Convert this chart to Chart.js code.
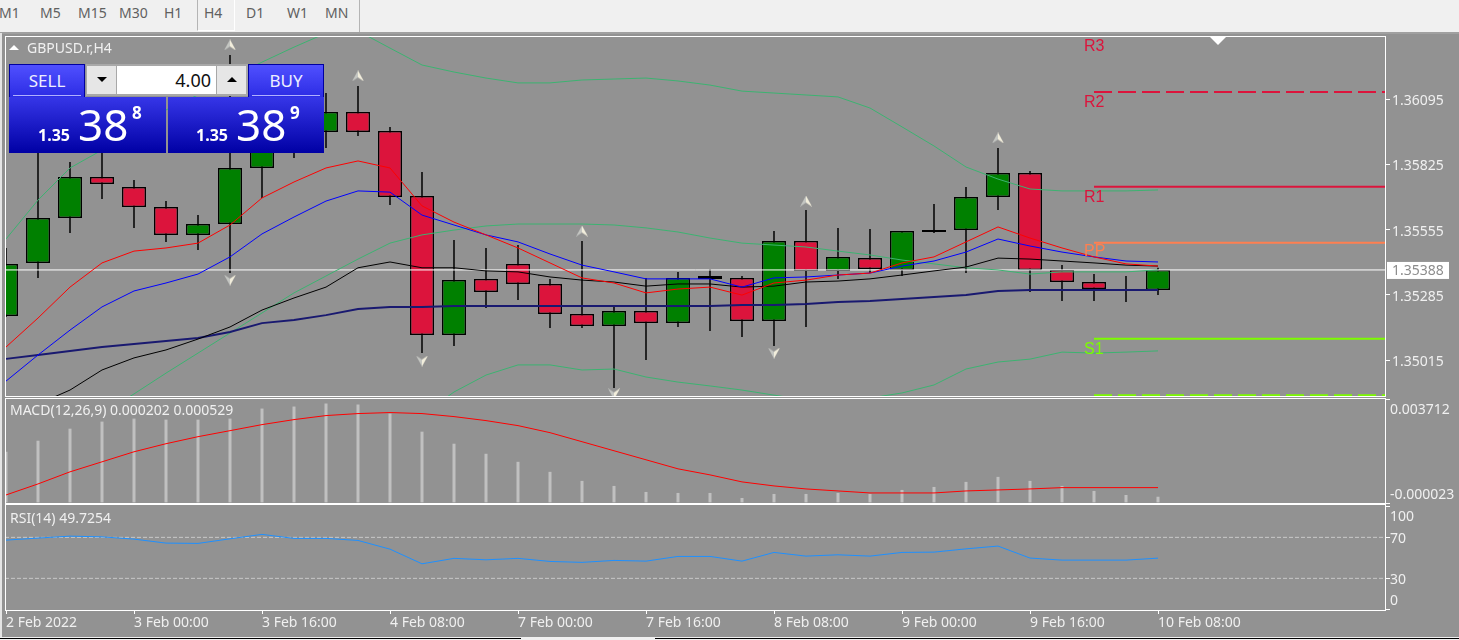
<!DOCTYPE html>
<html>
<head>
<meta charset="utf-8">
<title>GBPUSD.r,H4</title>
<script src="https://cdn.jsdelivr.net/npm/chart.js@4/dist/chart.umd.js"></script>
<style>
html, body { margin: 0; padding: 0; width: 1459px; height: 640px; overflow: hidden; background: #929292; font-family: "Noto Sans", sans-serif; }
canvas { position: absolute; left: 0; }
.abs { position: absolute; white-space: nowrap; }
#toolbar { left: 0; top: 0; width: 1459px; height: 32px; background: #f0f0f0; border-bottom: 2px solid #a0a0a0; }
#toolbar span { position: absolute; top: 3px; font-size: 14px; line-height: 20px; color: #606060; }
#tf-sep1 { left: 197px; top: 0; width: 36px; height: 30px; border-left: 1px solid #b4b4b4; border-right: 1px solid #fff; border-bottom: 1px solid #fff; }
#tf-sep2 { left: 359px; top: 0; width: 1px; height: 32px; background: #b4b4b4; }
#edge { left: 0; top: 33px; width: 2px; height: 604px; background: #e4e4e4; }
#foot { left: 0; top: 637px; width: 1459px; height: 3px; background: #f0f0f0; }
#foot i { position: absolute; top: 1px; height: 1px; background: #000; }
.pane-title { color: #f0f0f0; font-size: 14px; line-height: 16px; }
#tri-title { left: 9px; top: 45px; width: 0; height: 0; border-left: 5px solid transparent; border-right: 5px solid transparent; border-bottom: 5px solid #fff; }
#tri-shift { left: 1210px; top: 37px; width: 0; height: 0; border-left: 8px solid transparent; border-right: 8px solid transparent; border-top: 8px solid #fff; }
.tab { top: 64px; width: 76px; height: 33px; background: linear-gradient(#5050ff, #2c2ce4); border: 1px solid #0000a0; border-bottom: 0; box-sizing: border-box; color: #eef; text-align: center; font-size: 17px; line-height: 32px; }
.tab i { position: absolute; left: 3px; right: 3px; bottom: 1px; height: 1px; background: #b0b0ff; }
#lots { left: 86px; top: 64px; width: 162px; height: 32px; background: #a8a8a8; }
.stepper { top: 66px; width: 29px; height: 28px; background: #e6e6e6; }
.stepper b { position: absolute; left: 10px; top: 11px; width: 0; height: 0; border-left: 5px solid transparent; border-right: 5px solid transparent; }
#lot-val { left: 117px; top: 66px; width: 99px; height: 28px; background: #fff; color: #111; text-align: right; font-size: 18px; line-height: 28px; }
#lot-val span { padding-right: 5px; }
.quote { top: 97px; height: 56px; background: linear-gradient(#3636e8, #0000a4); color: #fff; }
.quote .big, .quote .small, .quote .tiny { position: absolute; }
.quote .big { font-size: 44px; line-height: 50px; top: 2px; }
.quote .small { font-size: 16px; font-weight: 700; line-height: 20px; top: 28px; }
.quote .tiny { font-size: 17px; font-weight: 700; line-height: 16px; top: 8px; }
</style>
</head>
<body>
<div id="toolbar" class="abs">
  <span style="left:-1px">M1</span><span style="left:40px">M5</span><span style="left:78px">M15</span><span style="left:119px">M30</span><span style="left:164px">H1</span>
  <span style="left:204px">H4</span><span style="left:246px">D1</span><span style="left:287px">W1</span><span style="left:325px">MN</span>
</div>
<div id="tf-sep1" class="abs"></div>
<div id="tf-sep2" class="abs"></div>
<div id="edge" class="abs"></div>

<canvas id="priceChart" width="1459" height="365" style="top:33px"></canvas>
<canvas id="macdChart" width="1459" height="108" style="top:397px"></canvas>
<canvas id="rsiChart" width="1459" height="133" style="top:504px"></canvas>

<div id="tri-title" class="abs"></div>
<div id="tri-shift" class="abs"></div>
<div class="abs pane-title" style="left:27px;top:40px">GBPUSD.r,H4</div>
<div class="abs pane-title" style="left:10px;top:402px">MACD(12,26,9) 0.000202 0.000529</div>
<div class="abs pane-title" style="left:10px;top:510px">RSI(14) 49.7254</div>

<div class="abs tab" style="left:9px"><i></i>SELL</div>
<div class="abs tab" style="left:248px"><i></i>BUY</div>
<div id="lots" class="abs"></div>
<div class="abs stepper" style="left:87px"><b style="border-top:5px solid #000"></b></div>
<div class="abs stepper" style="left:217px"><b style="border-bottom:5px solid #000"></b></div>
<div id="lot-val" class="abs"><span>4.00</span></div>
<div class="abs quote" style="left:9px;width:157px">
  <div class="small" style="left:29px">1.35</div><div class="big" style="left:69px">38</div><div class="tiny" style="left:123px">8</div>
</div>
<div class="abs quote" style="left:168px;width:156px">
  <div class="small" style="left:28px">1.35</div><div class="big" style="left:68px">38</div><div class="tiny" style="left:122px">9</div>
</div>
<div id="foot" class="abs"><i style="left:0;width:521px"></i><i style="left:655px;width:804px"></i></div>

<script>
var tickIndex = [0, 4, 8, 12, 16, 20, 24, 28, 32, 36];
var tickLabels = ["2 Feb 2022", "3 Feb 00:00", "3 Feb 16:00", "4 Feb 08:00", "7 Feb 00:00", "7 Feb 16:00", "8 Feb 08:00", "9 Feb 00:00", "9 Feb 16:00", "10 Feb 08:00"];

var opens = [1.35197, 1.35417, 1.35603, 1.35773, 1.35731, 1.35648, 1.35533, 1.35578, 1.35810, 1.35926, 1.35959, 1.36042, 1.35963, 1.35694, 1.35119, 1.35351, 1.35413, 1.35330, 1.35206, 1.35156, 1.35218, 1.35168, 1.35363, 1.35355, 1.35177, 1.35508, 1.35384, 1.35437, 1.35388, 1.35545, 1.35553, 1.35690, 1.35789, 1.35388, 1.35338, 1.35309, 1.35305];
var highs = [1.35479, 1.35926, 1.35835, 1.35905, 1.35760, 1.35673, 1.35615, 1.36277, 1.36071, 1.36091, 1.36120, 1.36149, 1.35980, 1.35793, 1.35512, 1.35479, 1.35491, 1.35351, 1.35508, 1.35235, 1.35355, 1.35380, 1.35392, 1.35363, 1.35549, 1.35636, 1.35562, 1.35557, 1.35549, 1.35661, 1.35731, 1.35893, 1.35797, 1.35408, 1.35371, 1.35363, 1.35397];
var lows = [1.35193, 1.35355, 1.35541, 1.35682, 1.35562, 1.35504, 1.35471, 1.35375, 1.35686, 1.35851, 1.35893, 1.35942, 1.35657, 1.35044, 1.35073, 1.35231, 1.35264, 1.35148, 1.35148, 1.34900, 1.35015, 1.35152, 1.35135, 1.35111, 1.35073, 1.35152, 1.35351, 1.35375, 1.35363, 1.35541, 1.35375, 1.35636, 1.35297, 1.35259, 1.35259, 1.35255, 1.35284];
var closes = [1.35413, 1.35603, 1.35773, 1.35744, 1.35648, 1.35533, 1.35578, 1.35810, 1.35988, 1.36017, 1.36042, 1.35959, 1.35690, 1.35119, 1.35346, 1.35297, 1.35330, 1.35206, 1.35156, 1.35218, 1.35168, 1.35355, 1.35351, 1.35177, 1.35508, 1.35384, 1.35442, 1.35392, 1.35549, 1.35553, 1.35690, 1.35789, 1.35388, 1.35338, 1.35309, 1.35301, 1.35388];

var maRed = [1.35069, 1.35189, 1.35317, 1.35417, 1.35466, 1.35479, 1.35499, 1.35574, 1.35686, 1.35752, 1.35810, 1.35839, 1.35810, 1.35653, 1.35586, 1.35533, 1.35479, 1.35417, 1.35355, 1.35334, 1.35293, 1.35309, 1.35317, 1.35284, 1.35334, 1.35346, 1.35367, 1.35375, 1.35417, 1.35442, 1.35504, 1.35566, 1.35520, 1.35479, 1.35442, 1.35413, 1.35404];
var maBlue = [1.34928, 1.35036, 1.35139, 1.35235, 1.35301, 1.35334, 1.35371, 1.35442, 1.35537, 1.35607, 1.35673, 1.35715, 1.35710, 1.35615, 1.35574, 1.35533, 1.35504, 1.35454, 1.35408, 1.35380, 1.35351, 1.35351, 1.35351, 1.35317, 1.35355, 1.35359, 1.35367, 1.35375, 1.35404, 1.35425, 1.35462, 1.35516, 1.35487, 1.35462, 1.35442, 1.35425, 1.35421];
var maBlack = [null, 1.34833, 1.34891, 1.34974, 1.35024, 1.35057, 1.35102, 1.35152, 1.35222, 1.35272, 1.35317, 1.35397, 1.35421, 1.35397, 1.35397, 1.35384, 1.35380, 1.35359, 1.35346, 1.35338, 1.35321, 1.35330, 1.35330, 1.35317, 1.35321, 1.35338, 1.35342, 1.35351, 1.35367, 1.35384, 1.35400, 1.35437, 1.35433, 1.35425, 1.35417, 1.35408, 1.35404];
var maNavy = [1.35020, 1.35036, 1.35053, 1.35069, 1.35082, 1.35094, 1.35106, 1.35131, 1.35168, 1.35181, 1.35201, 1.35226, 1.35235, 1.35235, 1.35239, 1.35239, 1.35239, 1.35239, 1.35239, 1.35239, 1.35239, 1.35239, 1.35239, 1.35243, 1.35243, 1.35247, 1.35255, 1.35259, 1.35268, 1.35276, 1.35284, 1.35301, 1.35305, 1.35305, 1.35305, 1.35305, 1.35305];

var bandUpper = [1.35516, 1.35677, 1.35810, 1.35884, 1.35967, 1.36050, 1.36112, 1.36182, 1.36248, 1.36310, 1.36368, 1.36377, 1.36306, 1.36236, 1.36207, 1.36182, 1.36162, 1.36162, 1.36174, 1.36178, 1.36182, 1.36170, 1.36153, 1.36128, 1.36120, 1.36112, 1.36104, 1.36058, 1.35980, 1.35901, 1.35814, 1.35764, 1.35723, 1.35715, 1.35715, 1.35715, 1.35719];
var bandMiddle = [null, null, null, 1.34792, 1.34875, 1.34961, 1.35044, 1.35127, 1.35210, 1.35293, 1.35363, 1.35433, 1.35499, 1.35533, 1.35553, 1.35570, 1.35578, 1.35578, 1.35578, 1.35574, 1.35562, 1.35545, 1.35520, 1.35499, 1.35491, 1.35483, 1.35466, 1.35450, 1.35429, 1.35413, 1.35397, 1.35388, 1.35371, 1.35380, 1.35380, 1.35380, 1.35388];
var bandLower = [null, null, null, null, null, null, null, null, null, null, null, null, null, 1.34788, 1.34883, 1.34953, 1.34995, 1.34995, 1.34974, 1.34978, 1.34945, 1.34924, 1.34908, 1.34891, 1.34870, 1.34850, 1.34846, 1.34858, 1.34879, 1.34912, 1.34978, 1.35007, 1.35019, 1.35048, 1.35044, 1.35048, 1.35053];

var fractalUpBars = [7, 11, 18, 25, 31];
var fractalUpValues = [1.36319, 1.36191, 1.35549, 1.35673, 1.35934];
var fractalDownBars = [7, 13, 19, 24];
var fractalDownValues = [1.35346, 1.35011, 1.34875, 1.35044];

var pivotNames = ["R3", "R2", "R1", "PP", "S1", "S2"];
var pivotValues = [1.36356, 1.36124, 1.35732, 1.35501, 1.35103, 1.34870];
var pivotFrom = 34;
var bidPrice = 1.35388;
var priceTicks = [1.36095, 1.35825, 1.35555, 1.35285, 1.35015];

var macdBars = [0.001817, 0.002214, 0.002647, 0.002900, 0.003008, 0.002972, 0.002972, 0.003008, 0.003369, 0.003441, 0.003550, 0.003514, 0.003189, 0.002539, 0.002106, 0.001745, 0.001456, 0.001096, 0.000771, 0.000590, 0.000374, 0.000338, 0.000338, 0.000157, 0.000302, 0.000302, 0.000338, 0.000302, 0.000446, 0.000554, 0.000735, 0.000915, 0.000771, 0.000590, 0.000410, 0.000265, 0.000202];
var macdSignal = [0.000265, 0.000662, 0.001096, 0.001456, 0.001817, 0.002106, 0.002359, 0.002575, 0.002792, 0.002972, 0.003117, 0.003189, 0.003225, 0.003189, 0.003080, 0.002936, 0.002756, 0.002503, 0.002178, 0.001853, 0.001529, 0.001204, 0.000987, 0.000735, 0.000590, 0.000482, 0.000410, 0.000338, 0.000338, 0.000338, 0.000410, 0.000446, 0.000482, 0.000529, 0.000529, 0.000529, 0.000529];
var macdTicks = [0.003712, -0.000023];

var rsiValues = [67.3, 69.3, 71.2, 70.5, 68.3, 64.4, 64.1, 68.6, 72.9, 69, 69, 67, 58.5, 44.2, 49.5, 48.1, 49.5, 46.5, 45.6, 47.5, 46.8, 51.4, 51.4, 46.8, 55.3, 51.7, 53, 51.7, 55.3, 55.6, 58.8, 61.5, 49.8, 47.8, 47.8, 47.8, 49.7254];
var rsiLevels = [70, 30];
var rsiTicks = [100, 70, 30, 0];

var AXIS_FONT = { family: '"Noto Sans", sans-serif', size: 14 };
var AXIS_COLOR = "#f0f0f0";
var X_MIN = -1 / 32, X_MAX = 43.125;

var points = function(values) {
  return values.map(function(v, i) { return { x: i, y: v }; });
};

var lineSet = function(values, color, width) {
  return { type: "line", data: points(values), borderColor: color, borderWidth: width, pointRadius: 0, tension: 0 };
};

var flatLine = function(value, from, color, width, dash) {
  return { type: "line", data: [{ x: from, y: value }, { x: X_MAX, y: value }], borderColor: color, borderWidth: width, borderDash: dash || [], pointRadius: 0 };
};

var arrowImage = function(up) {
  var c = document.createElement("canvas"), g;
  c.width = 12;
  c.height = 11;
  g = c.getContext("2d");
  if (!up) {
    g.translate(0, 11);
    g.scale(1, -1);
  }
  g.fillStyle = "#f2eedc";
  g.beginPath();
  g.moveTo(6, 0);
  g.lineTo(12, 11);
  g.lineTo(6, 7);
  g.closePath();
  g.fill();
  g.fillStyle = "#c4c6c2";
  g.beginPath();
  g.moveTo(6, 0);
  g.lineTo(0, 11);
  g.lineTo(6, 7);
  g.closePath();
  g.fill();
  return c;
};

var fractalSet = function(bars, values, up) {
  return {
    type: "line", showLine: false, pointStyle: arrowImage(up), pointRadius: 6,
    data: bars.map(function(b, i) { return { x: b, y: values[i] }; })
  };
};

var xAxis = function(show) {
  return {
    type: "linear", min: X_MIN, max: X_MAX, offset: false, display: show,
    afterBuildTicks: function(s) {
      s.ticks = tickIndex.map(function(v) { return { value: v }; });
    },
    afterFit: function(s) {
      s.height = show ? 27 : 0;
      s.paddingLeft = s.paddingRight = 0;
    },
    border: { display: false },
    grid: { drawOnChartArea: false, drawTicks: true, tickLength: 4, color: "#ffffff" },
    ticks: {
      autoSkip: false, maxRotation: 0, align: "start", padding: 1, color: AXIS_COLOR, font: AXIS_FONT,
      callback: function(v) { return tickLabels[tickIndex.indexOf(v)]; }
    }
  };
};

var yAxis = function(min, max, tickValues) {
  return {
    position: "right", min: min, max: max,
    afterBuildTicks: function(s) {
      s.ticks = tickValues.map(function(v) { return { value: v }; });
    },
    afterFit: function(s) {
      s.width = 73;
      s.paddingTop = s.paddingBottom = 0;
    },
    border: { display: false },
    grid: { drawOnChartArea: false, drawTicks: true, tickLength: 4, color: "#ffffff" },
    ticks: { display: false, autoSkip: false }
  };
};

// white frame round the plot area, and the right hand labels (MT4 pushes some inside the pane)
var framePlugin = {
  id: "frame",
  afterDraw: function(chart, args, opts) {
    var a = chart.chartArea, g = chart.ctx, s = chart.scales.y;
    g.save();
    g.strokeStyle = "#ffffff";
    g.lineWidth = 1;
    g.strokeRect(Math.round(a.left) + 0.5, Math.round(a.top) - 0.5, a.right - a.left - 1, a.bottom - a.top + 1);
    g.font = AXIS_FONT.size + "px " + AXIS_FONT.family;
    g.fillStyle = AXIS_COLOR;
    g.textBaseline = "middle";
    (opts.labels || []).forEach(function(l) {
      g.fillText(l.text, a.right + (l.gap || 4), s.getPixelForValue(l.value) + l.shift);
    });
    g.restore();
  }
};

var pricePlugin = {
  id: "priceMarks",
  afterDraw: function(chart) {
    var s = chart.scales.y, g = chart.ctx, y;
    g.save();
    g.font = '16px "Liberation Sans", sans-serif';
    g.textBaseline = "middle";
    pivotNames.forEach(function(name, i) {
      if (i === pivotNames.length - 1) return;
      g.fillStyle = name === "PP" ? "#ff7f50" : (name === "S1" ? "#7cfc00" : "#dc143c");
      g.fillText(name, chart.scales.x.getPixelForValue(pivotFrom) - 10, s.getPixelForValue(pivotValues[i]) + (name === "PP" ? 9 : 11));
    });
    y = s.getPixelForValue(bidPrice);
    g.fillStyle = "#ffffff";
    g.fillRect(1387, y - 8, 62, 17);
    g.fillStyle = "#8c8c8c";
    g.font = AXIS_FONT.size + "px " + AXIS_FONT.family;
    g.fillText(bidPrice.toFixed(5), 1392, y + 1);
    g.restore();
  }
};

var baseOptions = function(padTop, padBottom, showX, y, labels) {
  return {
    responsive: false, animation: false, devicePixelRatio: 1,
    layout: { autoPadding: false, padding: { left: 5, top: padTop, bottom: padBottom, right: 0 } },
    plugins: { legend: { display: false }, tooltip: { enabled: false }, frame: { labels: labels || [] } },
    scales: { x: xAxis(showX), y: y }
  };
};

new Chart(document.getElementById("priceChart"), {
  type: "bar",
  data: {
    datasets: [
      fractalSet(fractalUpBars, fractalUpValues, true),
      fractalSet(fractalDownBars, fractalDownValues, false),
      lineSet(maRed, "#ff0000", 1),
      lineSet(maBlue, "#0000ff", 1),
      lineSet(maBlack, "#000000", 1),
      lineSet(maNavy, "#191970", 2),
      lineSet(bandUpper, "#3cb371", 1),
      lineSet(bandMiddle, "#3cb371", 1),
      lineSet(bandLower, "#3cb371", 1),
      flatLine(bidPrice, X_MIN, "#ffffff", 1),
      flatLine(pivotValues[0], pivotFrom, "#dc143c", 2),
      flatLine(pivotValues[1], pivotFrom, "#dc143c", 2, [18, 6]),
      flatLine(pivotValues[2], pivotFrom, "#dc143c", 2),
      flatLine(pivotValues[3], pivotFrom, "#ff7f50", 2),
      flatLine(pivotValues[4], pivotFrom, "#7cfc00", 2),
      flatLine(pivotValues[5], pivotFrom, "#7cfc00", 2, [18, 6]),
      {
        grouped: false, barPercentage: 0.75, categoryPercentage: 1, borderWidth: 1.5, borderColor: "#000000", borderSkipped: false,
        backgroundColor: opens.map(function(o, i) { return closes[i] >= o ? "#008000" : "#dc143c"; }),
        data: opens.map(function(o, i) { return { x: i, y: [o, closes[i]] }; })
      },
      {
        grouped: false, barPercentage: 0.047, categoryPercentage: 1, backgroundColor: "#000000",
        data: lows.map(function(l, i) { return { x: i, y: [l, highs[i]] }; })
      }
    ]
  },
  options: baseOptions(4, 2, false, yAxis(1.348664, 1.363519, priceTicks), priceTicks.map(function(v) {
    return { value: v, text: v.toFixed(5), shift: 2, gap: 6 };
  })),
  plugins: [framePlugin, pricePlugin]
});

new Chart(document.getElementById("macdChart"), {
  type: "bar",
  data: {
    datasets: [
      lineSet(macdSignal, "#ff0000", 1),
      { grouped: false, barPercentage: 0.094, categoryPercentage: 1, backgroundColor: "#c0c0c0", data: points(macdBars) }
    ]
  },
  options: baseOptions(2, 2, false, yAxis(macdTicks[1], macdTicks[0], macdTicks), [
    { value: macdTicks[0], text: macdTicks[0].toFixed(6), shift: 11 },
    { value: macdTicks[1], text: macdTicks[1].toFixed(6), shift: -8 }
  ]),
  plugins: [framePlugin]
});

new Chart(document.getElementById("rsiChart"), {
  type: "line",
  data: {
    datasets: [
      lineSet(rsiValues, "#1e90ff", 1),
      flatLine(rsiLevels[0], X_MIN, "#c8c8c8", 1, [4, 2]),
      flatLine(rsiLevels[1], X_MIN, "#c8c8c8", 1, [4, 2])
    ]
  },
  options: baseOptions(1, 0, true, yAxis(-0.9, 101.6, rsiTicks), [
    { value: rsiTicks[0], text: String(rsiTicks[0]), shift: 10 },
    { value: rsiTicks[1], text: String(rsiTicks[1]), shift: 2 },
    { value: rsiTicks[2], text: String(rsiTicks[2]), shift: 2 },
    { value: rsiTicks[3], text: String(rsiTicks[3]), shift: -8 }
  ]),
  plugins: [framePlugin]
});
</script>
</body>
</html>
